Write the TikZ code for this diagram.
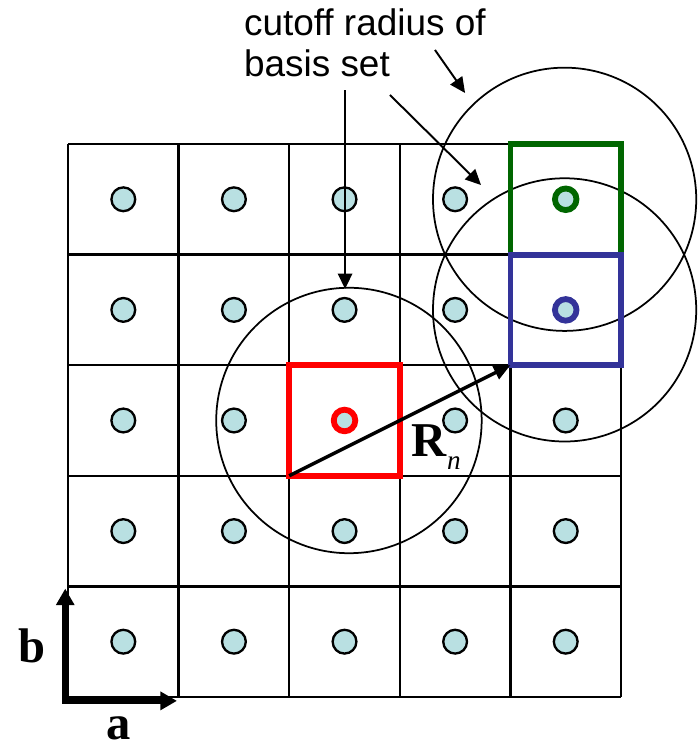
\documentclass[tikz,border=0pt]{standalone}
\usepackage{fontspec}
\setmainfont{Liberation Serif}
\newfontfamily\notefont{Liberation Sans}
\usetikzlibrary{arrows.meta}
\definecolor{sitefill}{RGB}{185,224,226}
\definecolor{imggreen}{RGB}{0,102,0}
\definecolor{imgblue}{RGB}{51,51,153}

\begin{document}
\begin{tikzpicture}[
    site/.style={circle,draw,fill=sitefill,inner sep=0pt,minimum size=2.15mm,line width=0.6pt},
    ring/.style={site,minimum size=1.95mm,line width=1.5pt},
    cellbox/.style={draw,line width=1.5pt,minimum size=1cm,inner sep=0pt,outer sep=0pt},
    cutoff/.style={circle,draw,line width=0.45pt,inner sep=0pt,minimum size=#1},
    pointer/.style={-{Triangle[length=1.4mm,width=1.3mm]},line width=0.5pt},
    vec/.style={-{Triangle[length=1.5mm,width=1.3mm]},line width=0.9pt},
    axis/.style={-{Triangle[length=1.5mm,width=1.6mm]},line width=1.6pt,line cap=rect},
    vlabel/.style={font=\fontsize{12.5}{14}\selectfont\bfseries}
]
    \useasboundingbox (-0.615,-0.434) rectangle (5.714,6.302);

    \draw[line width=0.6pt] (0,0) grid (5,5);
    \foreach \i in {0,...,4}
        \foreach \j in {0,...,4}
            \node[site] (s\i\j) at (\i+0.5,\j+0.5) {};

    \node[cutoff=2.4cm] (rhome) at (2.54,2.5) {};
    \node[cutoff=2.38cm] (rA) at (4.49,4.5) {};
    \node[cutoff=2.38cm] (rB) at (4.49,3.5) {};

    \node[cellbox,draw=red] (homecell) at (2.5,2.5) {};
    \node[cellbox,draw=imggreen] (cellA) at (4.5,4.5) {};
    \node[cellbox,draw=imgblue] (cellB) at (4.5,3.5) {};
    \node[ring,draw=red] (home) at (2.5,2.5) {};
    \node[ring,draw=imggreen] (imgA) at (4.5,4.5) {};
    \node[ring,draw=imgblue] (imgB) at (4.5,3.5) {};

    \draw[vec] (homecell.south west) -- (cellB.south west);
    \node[vlabel] (rn) at (3.33,2.26) {R\raisebox{-1.2mm}{\fontsize{7}{8}\selectfont\normalfont\itshape n}};

    % lattice vectors
    \coordinate (org) at (-0.025,-0.035);
    \coordinate (atip) at (0.985,-0.035);
    \coordinate (btip) at (-0.025,0.98);
    \draw[axis] (org) -- (atip);
    \draw[axis] (org) -- (btip);
    \node[vlabel] (alab) at (0.46,-0.28) {a};
    \node[vlabel] (blab) at (-0.33,0.46) {b};

    \node[font=\notefont\fontsize{9.5}{10.6}\selectfont,align=left,anchor=north west,inner sep=0pt] (cutofftext) at (1.585,6.23) {cutoff radius of\\basis set};
    \coordinate (n1) at (2.505,5.488);
    \coordinate (t1) at (2.505,3.689);
    \coordinate (n2) at (2.911,5.443);
    \coordinate (t2) at (3.734,4.629);
    \coordinate (n3) at (3.318,5.85);
    \coordinate (t3) at (3.59,5.461);
    \draw[pointer] (n1) -- (t1);
    \draw[pointer] (n2) -- (t2);
    \draw[pointer] (n3) -- (t3);
\end{tikzpicture}
\end{document}
